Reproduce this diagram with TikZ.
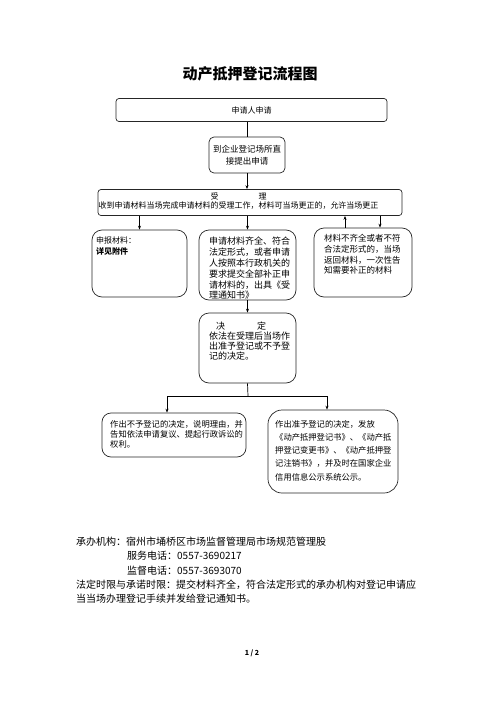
\documentclass[tikz,border=0pt]{standalone}
\usepackage{fontspec}
\setmainfont{Noto Sans CJK SC}
\usetikzlibrary{positioning,arrows.meta}

\begin{document}
\begin{tikzpicture}[x=1pt,y=1pt,yscale=-1,
    box/.style={draw=black!85, line width=0.7pt, rounded corners=#1, inner sep=0pt},
    box/.default=3pt,
    txt/.style={inner sep=0pt, anchor=north west, align=left},
    arr/.style={line width=0.7pt, -{Stealth[length=4pt,width=3pt]}},
    ln/.style={line width=0.7pt}]
  \useasboundingbox (0,0) rectangle (500,707);

  % Text Node
  \node[font=\fontsize{15}{15}\selectfont\bfseries] (title) at (250,74) {动产抵押登记流程图};

  %Shape: Rounded Rect
  \node[box, minimum width=271, minimum height=23, font=\fontsize{8}{8}\selectfont] (apply) at (251.5,110) {申请人申请};
  %Shape: Rounded Rect
  \node[box=5pt, minimum width=76, minimum height=36, align=center, font=\fontsize{8.5}{12}\selectfont] (direct) at (247,155) {到企业登记场所直\\接提出申请};
  %Shape: Rounded Rect
  \node[box, minimum width=304, minimum height=26] (accept) at (250,202.5) {};
  % Text Node
  \node[inner sep=0pt, align=center, font=\fontsize{8}{8.5}\selectfont] (accepttxt) at (238.5,201) {受\hspace{40pt}理\\收到申请材料当场完成申请材料的受理工作，材料可当场更正的，允许当场更正};

  %Shape: Rounded Rect
  \node[box=10pt, minimum width=95, minimum height=67] (docs) at (139.5,263.5) {};
  % Text Node
  \node[txt, font=\fontsize{8}{10.5}\selectfont] (docstxt) at (96,237) {申报材料：\\\textbf{详见附件}};
  %Shape: Rounded Rect
  \node[box=10pt, minimum width=97, minimum height=70] (complete) at (247.5,265) {};
  % Text Node
  \node[txt, font=\fontsize{9}{10.8}\selectfont] (completetxt) at (209,237) {申请材料齐全、符合\\法定形式，或者申请\\人按照本行政机关的\\要求提交全部补正申\\请材料的，出具《受\\理通知书》};
  %Shape: Rounded Rect
  \node[box=10pt, minimum width=98, minimum height=69] (incomplete) at (363,262.5) {};
  % Text Node
  \node[txt, font=\fontsize{8.5}{10.8}\selectfont] (incompletetxt) at (324,234) {材料不齐全或者不符\\合法定形式的，当场\\返回材料，一次性告\\知需要补正的材料};

  %Shape: Rounded Rect
  \node[box=10pt, minimum width=97, minimum height=70] (decide) at (247.5,348) {};
  % Text Node
  \node[txt, font=\fontsize{9}{10}\selectfont] (decidetxt) at (209,322) {\hspace*{7pt}决\hspace{32pt}定\\依法在受理后当场作\\出准予登记或不予登\\记的决定。};

  %Shape: Rounded Rect
  \node[box=9pt, minimum width=144, minimum height=44] (refuse) at (174,435) {};
  % Text Node
  \node[txt, font=\fontsize{8.3}{10}\selectfont] (refusetxt) at (110,420) {作出不予登记的决定，说明理由，并\\告知依法申请复议、提起行政诉讼的\\权利。};
  %Shape: Rounded Rect
  \node[box=14pt, minimum width=130, minimum height=83] (grant) at (333,451.5) {};
  % Text Node
  \node[txt, font=\fontsize{8.3}{13.2}\selectfont] (granttxt) at (275,420) {作出准予登记的决定，发放\\《动产抵押登记书》、《动产抵\\押登记变更书》、《动产抵押登\\记注销书》，并及时在国家企业\\信用信息公示系统公示。};

  %Straight Lines
  \coordinate (up) at (345,0);
  \coordinate (down) at (380,0);
  \coordinate (fork) at (248,396);
  \coordinate (forkL) at (167,396);
  \coordinate (forkR) at (327,396);
  \draw[ln] (apply.south -| direct.north) -- (direct.north);
  \draw[arr] (direct.south) -- (direct.south |- accept.north);
  \draw[arr] (accept.south -| docs.north) -- (docs.north);
  \draw[arr] (accept.south -| complete.north) -- (complete.north);
  \draw[arr] (incomplete.north -| up) -- (accept.south -| up);
  \draw[arr] (accept.south -| down) -- (incomplete.north -| down);
  \draw[arr] (complete.south) -- (decide.north);
  \draw[ln] (decide.south) -- (fork);
  \draw[ln] (forkL) -- (forkR);
  \draw[arr] (forkL) -- (forkL |- refuse.north);
  \draw[arr] (forkR) -- (forkR |- grant.north);

  % Text Node
  \node[txt, font=\fontsize{10}{14.3}\selectfont] (office) at (76,537) {承办机构：宿州市埇桥区市场监督管理局市场规范管理股\\\hspace*{51pt}服务电话：0557-3690217\\\hspace*{51pt}监督电话：0557-3693070\\法定时限与承诺时限：提交材料齐全，符合法定形式的承办机构对登记申请应\\当当场办理登记手续并发给登记通知书。};
  % Text Node
  \node[font=\fontsize{7}{7}\selectfont\bfseries] (page) at (252,653) {1 / 2};
\end{tikzpicture}
\end{document}
